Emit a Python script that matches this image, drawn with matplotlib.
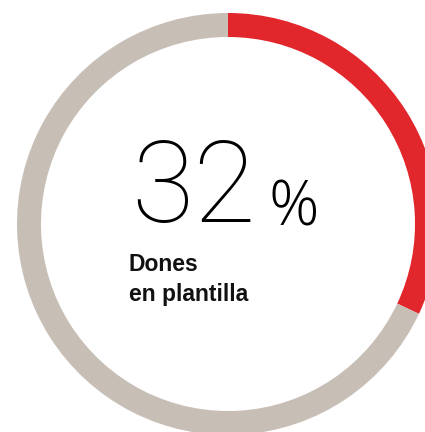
import matplotlib
matplotlib.use("Agg")
import matplotlib.pyplot as plt

share_label = "Dones\nen plantilla"
values = [32, 68]
colors = ["#e1262c", "#c7bfb6"]
big_number = "32"
unit = "%"

W, H = 425, 432
fig = plt.figure(figsize=(W / 100, H / 100), dpi=100)
ax = fig.add_axes([0, 0, 1, 1])
ax.pie(values, colors=colors, startangle=90, counterclock=False,
       radius=211, center=(228, H - 224),
       wedgeprops=dict(width=24, linewidth=0))
ax.set_xlim(0, W)
ax.set_ylim(0, H)
ax.set_aspect("equal")
ax.axis("off")

ax.text(131, H - 222, big_number, fontsize=82, fontfamily="Roboto",
        fontweight=100, color="black", ha="left", va="baseline")
ax.text(269, H - 225, unit, fontsize=45, fontfamily="Open Sans",
        fontweight=300, color="black", ha="left", va="baseline")
lines = share_label.split("\n")
ax.text(129, H - 271, lines[0], fontsize=16.5, fontfamily="Liberation Sans",
        fontweight="bold", color="#111111", ha="left", va="baseline")
ax.text(129, H - 301, lines[1], fontsize=16.5, fontfamily="Liberation Sans",
        fontweight="bold", color="#111111", ha="left", va="baseline")

fig.savefig("out.png", dpi=100)
